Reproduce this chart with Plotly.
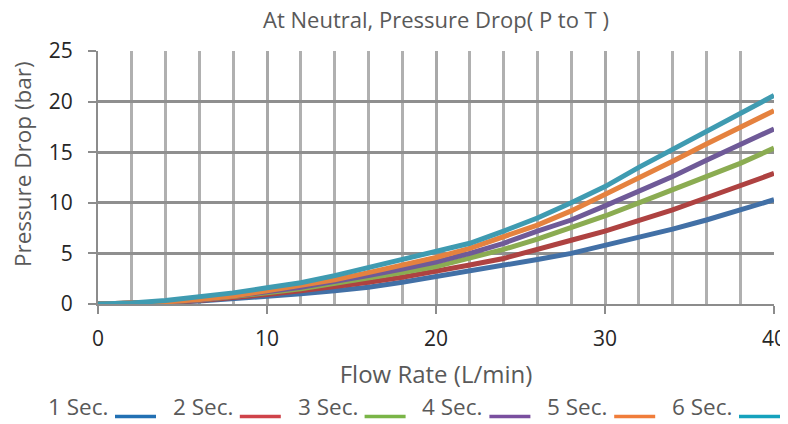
import plotly.graph_objects as go

flow = [0, 2, 4, 6, 8, 10, 12, 14, 16, 18, 20, 22, 24, 26, 28, 30, 32, 34, 36, 38, 40]

sec1 = [0, 0.05, 0.15, 0.3, 0.5, 0.75, 1.0, 1.3, 1.65, 2.15, 2.7, 3.2, 3.8, 4.4, 5.0, 5.8, 6.5, 7.4, 8.3, 9.3, 10.3]
sec2 = [0, 0.05, 0.15, 0.35, 0.6, 0.95, 1.3, 1.7, 2.15, 2.65, 3.2, 3.85, 4.5, 5.35, 6.3, 7.2, 8.2, 9.3, 10.5, 11.7, 12.9]
sec3 = [0, 0.05, 0.2, 0.4, 0.7, 1.1, 1.5, 2.0, 2.5, 3.1, 3.7, 4.5, 5.4, 6.4, 7.5, 8.7, 10.0, 11.3, 12.6, 13.9, 15.4]
sec4 = [0, 0.05, 0.2, 0.4, 0.75, 1.2, 1.65, 2.2, 2.8, 3.45, 4.15, 5.0, 6.0, 7.2, 8.3, 9.7, 11.1, 12.6, 14.2, 15.7, 17.3]
sec5 = [0, 0.05, 0.2, 0.45, 0.8, 1.3, 1.8, 2.4, 3.1, 3.8, 4.6, 5.5, 6.7, 7.8, 9.2, 10.8, 12.4, 14.1, 15.8, 17.5, 19.1]
sec6 = [0, 0.1, 0.35, 0.7, 1.1, 1.6, 2.1, 2.8, 3.6, 4.4, 5.1, 6.0, 7.2, 8.5, 10.0, 11.6, 13.5, 15.3, 17.1, 18.9, 20.6]

names = ["1 Sec.", "2 Sec.", "3 Sec.", "4 Sec.", "5 Sec.", "6 Sec."]
series = [sec1, sec2, sec3, sec4, sec5, sec6]
line_colors = ["#4270a6", "#ae4241", "#8bac52", "#6f5a98", "#e5823f", "#3f9bb1"]
legend_colors = ["#2270b3", "#cf434a", "#7ab547", "#7a4f9f", "#f07d3a", "#16a2bd"]

TEXT = "#595959"
TFONT = "Open Sans, sans-serif"
NFONT = "Open Sans, sans-serif"

# page body has an 8px margin, so the figure sits 8px in from the window edge
OFF = 8
W, H = 788 - OFF, 424 - OFF
L, R, T = 98 - OFF, 14, 51 - OFF
B = H - (304 - OFF)
pw, ph = W - L - R, H - T - B

fig = go.Figure()
for name, ys, col in zip(names, series, line_colors):
    fig.add_trace(go.Scatter(x=flow, y=ys, mode="lines", name=name,
                             line=dict(color=col, width=5), showlegend=False))

axis_common = dict(
    showline=True, linecolor="#8c8c8c", linewidth=2, mirror=False,
    ticks="outside", ticklen=8, tickwidth=2, tickcolor="#8c8c8c",
    tickfont=dict(family=NFONT, size=21, color="#262626"),
    zeroline=False, automargin=False, ticklabeloverflow="allow",
)

fig.update_xaxes(
    range=[0, 40], dtick=10, tick0=0, ticklabelstandoff=7,
    showgrid=True, gridcolor="#a9a9a9", gridwidth=2.5,
    minor=dict(dtick=2, showgrid=True, gridcolor="#b0b0b0", gridwidth=2.5, ticks=""),
    title=dict(text="Flow Rate (L/min)", font=dict(family=TFONT, size=24, color=TEXT), standoff=15),
    **axis_common,
)
fig.update_yaxes(
    range=[0, 25], dtick=5, tick0=0, ticklabelstandoff=11,
    showgrid=True, gridcolor="#8f8f8f", gridwidth=2.5,
    **axis_common,
)


def px_to_paper_x(px):
    return (px - OFF - L) / pw


def py_to_paper_y(py):
    return (H - B - (py - OFF)) / ph


# y-axis title, placed where the reference has it
fig.add_annotation(x=px_to_paper_x(22), y=py_to_paper_y(164), xref="paper", yref="paper",
                   text="Pressure Drop (bar)", textangle=-90, showarrow=False,
                   xanchor="center", yanchor="middle",
                   font=dict(family=TFONT, size=22.5, color=TEXT))

# custom legend: text followed by a short coloured line
item_start = 47
item_step = 124.8
for i, (name, col) in enumerate(zip(names, legend_colors)):
    x0 = item_start + i * item_step
    fig.add_annotation(x=px_to_paper_x(x0 - 1), y=py_to_paper_y(407), xref="paper", yref="paper",
                       text=name, showarrow=False, xanchor="left", yanchor="middle",
                       font=dict(family=TFONT, size=22.5, color=TEXT))
    fig.add_shape(type="line", xref="paper", yref="paper",
                  x0=px_to_paper_x(x0 + 68), x1=px_to_paper_x(x0 + 109),
                  y0=py_to_paper_y(416.5), y1=py_to_paper_y(416.5),
                  line=dict(color=col, width=3.5))

fig.update_layout(
    width=W, height=H,
    margin=dict(l=L, r=R, t=T, b=B),
    paper_bgcolor="white", plot_bgcolor="white",
    title=dict(text="At Neutral, Pressure Drop( P to T )", x=(L + pw / 2) / W, xanchor="center",
               y=1 - (20 - OFF) / H, yanchor="middle",
               font=dict(family=TFONT, size=22, color=TEXT)),
    showlegend=False,
)

fig.write_html("out.html")
